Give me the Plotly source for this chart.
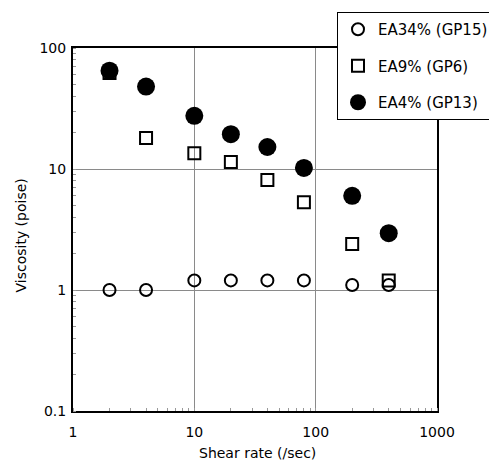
import plotly.graph_objects as go

shear_rate = [2, 4, 10, 20, 40, 80, 200, 400]
ea34 = [1.0, 1.0, 1.2, 1.2, 1.2, 1.2, 1.1, 1.1]
ea9 = [62, 18, 13.5, 11.4, 8.1, 5.3, 2.4, 1.2]
ea4 = [65, 48, 27.5, 19.4, 15.2, 10.2, 6.0, 2.95]

names = ["EA34% (GP15)", "EA9% (GP6)", "EA4% (GP13)"]
x_title = "Shear rate (/sec)"
y_title = "Viscosity (poise)"

FONT = "DejaVu Sans"
# The page body has an 8px margin, so the figure is sized to fill the rest.
W, H = 489, 452
L, R, T, B = 65, 60, 40, 49
PW, PH = W - L - R, H - T - B

fig = go.Figure()
fig.add_trace(go.Scatter(
    x=shear_rate, y=ea34, mode="markers", name=names[0], legendgroup="a",
    marker=dict(symbol="circle-open", size=12, color="black", line=dict(width=2, color="black")),
))
fig.add_trace(go.Scatter(
    x=shear_rate, y=ea9, mode="markers", name=names[1], legendgroup="b",
    marker=dict(symbol="square-open", size=12, color="black", line=dict(width=2, color="black")),
))
fig.add_trace(go.Scatter(
    x=shear_rate, y=ea4, mode="markers", name=names[2], legendgroup="c",
    marker=dict(symbol="circle", size=18, color="black"),
))

axis_common = dict(
    type="log",
    showgrid=True, gridcolor="#8a8a8a", gridwidth=1,
    showline=True, linecolor="black", linewidth=2, mirror=True,
    ticks="", zeroline=False,
    tickfont=dict(family=FONT, size=14, color="black"),
    minor=dict(ticks="inside", ticklen=3, tickcolor="#999999", tickwidth=1,
               dtick="D1", showgrid=False),
)

fig.update_xaxes(
    **axis_common,
    range=[0, 3],
    tickvals=[1, 10, 100, 1000], ticktext=["1", "10", "100", "1000"],
    ticklabelstandoff=7,
)
fig.update_yaxes(
    **axis_common,
    range=[-1, 2],
    tickvals=[0.1, 1, 10, 100], ticktext=["0.1", "1", "10", "100"],
    ticklabelstandoff=2,
)

fig.add_annotation(
    text=x_title, xref="paper", yref="paper",
    x=(249.5 - L) / PW, y=-(445 - (T + PH)) / PH,
    xanchor="center", yanchor="middle", showarrow=False,
    font=dict(family=FONT, size=14, color="black"),
)
fig.add_annotation(
    text=y_title, xref="paper", yref="paper",
    x=(12.5 - L) / PW, y=1 - (228 - T) / PH,
    xanchor="center", yanchor="middle", showarrow=False, textangle=-90,
    font=dict(family=FONT, size=14, color="black"),
)

fig.update_layout(
    width=W, height=H,
    margin=dict(l=L, r=R, t=T, b=B, autoexpand=False),
    paper_bgcolor="white", plot_bgcolor="white",
    showlegend=True,
    legend=dict(
        x=329 / W, y=1 - 4 / H, xref="container", yref="container",
        xanchor="left", yanchor="top",
        bgcolor="white", bordercolor="black", borderwidth=1,
        font=dict(family=FONT, size=15, color="black"),
        traceorder="grouped", tracegroupgap=14,
        itemwidth=30,
    ),
)

fig.write_html("out.html")
